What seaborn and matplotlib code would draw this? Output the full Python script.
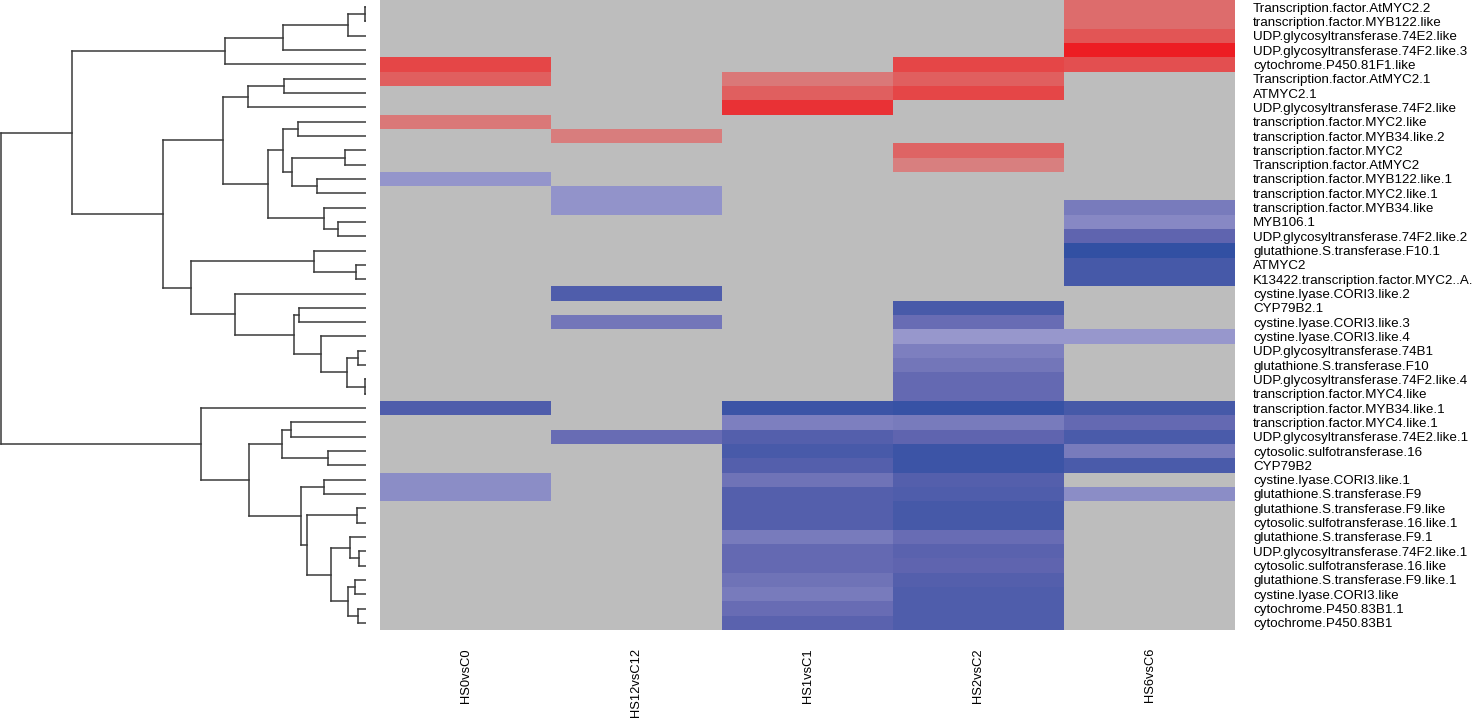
import numpy as np
import pandas as pd
import matplotlib
matplotlib.use("Agg")
import matplotlib.pyplot as plt
import seaborn as sns
from matplotlib.colors import LinearSegmentedColormap

nan = np.nan

# Row labels (top to bottom, dendrogram order)
genes = [
    "Transcription.factor.AtMYC2.2", "transcription.factor.MYB122.like",
    "UDP.glycosyltransferase.74E2.like", "UDP.glycosyltransferase.74F2.like.3",
    "cytochrome.P450.81F1.like", "Transcription.factor.AtMYC2.1", "ATMYC2.1",
    "UDP.glycosyltransferase.74F2.like", "transcription.factor.MYC2.like",
    "transcription.factor.MYB34.like.2", "transcription.factor.MYC2",
    "Transcription.factor.AtMYC2", "transcription.factor.MYB122.like.1",
    "transcription.factor.MYC2.like.1", "transcription.factor.MYB34.like",
    "MYB106.1", "UDP.glycosyltransferase.74F2.like.2",
    "glutathione.S.transferase.F10.1", "ATMYC2",
    "K13422.transcription.factor.MYC2..A.", "cystine.lyase.CORI3.like.2",
    "CYP79B2.1", "cystine.lyase.CORI3.like.3", "cystine.lyase.CORI3.like.4",
    "UDP.glycosyltransferase.74B1", "glutathione.S.transferase.F10",
    "UDP.glycosyltransferase.74F2.like.4", "transcription.factor.MYC4.like",
    "transcription.factor.MYB34.like.1", "transcription.factor.MYC4.like.1",
    "UDP.glycosyltransferase.74E2.like.1", "cytosolic.sulfotransferase.16",
    "CYP79B2", "cystine.lyase.CORI3.like.1", "glutathione.S.transferase.F9",
    "glutathione.S.transferase.F9.like", "cytosolic.sulfotransferase.16.like.1",
    "glutathione.S.transferase.F9.1", "UDP.glycosyltransferase.74F2.like.1",
    "cytosolic.sulfotransferase.16.like", "glutathione.S.transferase.F9.like.1",
    "cystine.lyase.CORI3.like", "cytochrome.P450.83B1.1", "cytochrome.P450.83B1",
]

comparisons = ["HS0vsC0", "HS12vsC12", "HS1vsC1", "HS2vsC2", "HS6vsC6"]

# log2 fold change per comparison (NaN = not significant)
hs0 = [nan, nan, nan, nan, 3.5, 2.6, nan, nan, 1.6, nan, nan, nan, -1.3, nan,
       nan, nan, nan, nan, nan, nan, nan, nan, nan, nan, nan, nan, nan, nan,
       -3.6, nan, nan, nan, nan, -1.6, -1.6, nan, nan, nan, nan, nan, nan,
       nan, nan, nan]
hs12 = [nan, nan, nan, nan, nan, nan, nan, nan, nan, 1.4, nan, nan, nan, -1.4,
        -1.4, nan, nan, nan, nan, nan, -3.6, nan, -2.35, nan, nan, nan, nan,
        nan, nan, nan, -2.7, nan, nan, nan, nan, nan, nan, nan, nan, nan, nan,
        nan, nan, nan]
hs1 = [nan, nan, nan, nan, nan, 1.6, 2.6, 4.2, nan, nan, nan, nan, nan, nan,
       nan, nan, nan, nan, nan, nan, nan, nan, nan, nan, nan, nan, nan, nan,
       -4.4, -2.05, -3.4, -3.9, -3.4, -2.5, -3.4, -3.4, -3.4, -2.2, -2.85,
       -2.85, -2.5, -2.2, -2.7, -3.2]
hs2 = [nan, nan, nan, nan, 3.5, 2.6, 3.5, nan, nan, nan, 2.4, 1.3, nan, nan,
       nan, nan, nan, nan, nan, nan, nan, -3.9, -2.7, -1.25, -2.05, -2.35,
       -2.85, -2.85, -4.6, -2.2, -3.0, -4.4, -4.4, -3.4, -3.6, -4.0, -4.0,
       -2.7, -3.2, -3.0, -3.4, -3.6, -3.6, -3.6]
hs6 = [2.1, 2.1, 3.0, 4.85, 3.2, nan, nan, nan, nan, nan, nan, nan, nan, nan,
       -2.2, -1.75, -3.0, -4.8, -4.0, -4.0, nan, nan, nan, -1.25, nan, nan,
       nan, nan, -4.0, -2.85, -3.8, -2.2, -3.8, nan, -1.6, nan, nan, nan, nan,
       nan, nan, nan, nan, nan]

# Row dendrogram: (left, right, height); ints are leaf rows
a012 = (((0, 1, 0.02), 2, 0.45), 3, 2.08)
clust_a = (a012, 4, 3.52)
b567 = ((5, 6, 2.05), 7, 2.95)
b8_13 = ((8, 9, 1.70), ((10, 11, 0.52), (12, 13, 1.22), 1.85), 2.08)
b14_16 = (14, (15, 16, 0.70), 1.05)
clust_b1 = (b567, (b8_13, b14_16, 2.45), 3.57)
d17_19 = (17, (18, 19, 0.25), 1.30)
e23_27 = (23, ((24, 25, 0.20), (26, 27, 0.02), 0.47), 1.12)
e20_27 = (20, ((21, 22, 1.68), e23_27, 1.80), 3.27)
clust_b = (clust_b1, (d17_19, e20_27, 4.37), 5.07)
f29_32 = ((29, 30, 1.88), (31, 32, 0.95), 2.10)
g37_43 = ((37, (38, 39, 0.18), 0.40), ((40, 41, 0.27), (42, 43, 0.20), 0.45), 0.87)
g33_43 = ((33, 34, 1.05), ((35, 36, 0.22), g37_43, 1.47), 1.62)
clust_f = (28, (f29_32, g33_43, 2.92), 4.12)
tree = ((clust_a, clust_b, 7.32), clust_f, 9.10)

df = pd.DataFrame({"HS0vsC0": hs0, "HS12vsC12": hs12, "HS1vsC1": hs1,
                   "HS2vsC2": hs2, "HS6vsC6": hs6}, index=genes)[comparisons]

cmap = LinearSegmentedColormap.from_list("fc", [
    (0.0, (45/255, 78/255, 162/255)),
    (0.2, (95/255, 100/255, 175/255)),
    (0.4, (158/255, 158/255, 208/255)),
    (0.499, (170/255, 170/255, 214/255)),
    (0.501, (212/255, 142/255, 142/255)),
    (0.6, (214/255, 135/255, 135/255)),
    (0.8, (226/255, 85/255, 85/255)),
    (1.0, (238/255, 25/255, 32/255)),
])

plt.rcParams["font.family"] = ["Liberation Sans", "DejaVu Sans"]

W, H = 1477, 720
fig = plt.figure(figsize=(W / 100, H / 100), dpi=100)

# heatmap
ax = fig.add_axes([380 / W, 90 / H, 855 / W, 630 / H])
ax.set_facecolor("#bdbdbd")
sns.heatmap(df, ax=ax, cmap=cmap, vmin=-5, vmax=5, cbar=False,
            xticklabels=True, yticklabels=True)
ax.yaxis.tick_right()
ax.set_yticklabels(genes, rotation=0, fontsize=9.6, ha="left")
ax.set_xticklabels(comparisons, rotation=90, fontsize=9.3)
ax.tick_params(axis="y", length=0, pad=13)
ax.tick_params(axis="x", length=0, pad=13)
ax.set_xlabel("")
ax.set_ylabel("")

# dendrogram
dax = fig.add_axes([0, 90 / H, 366 / W, 630 / H])


def draw(node):
    if isinstance(node, int):
        return node + 0.5, 0.0
    left, right, h = node
    y1, h1 = draw(left)
    y2, h2 = draw(right)
    dax.plot([h1, h], [y1, y1], color="#3a3a3a", lw=1.1)
    dax.plot([h2, h], [y2, y2], color="#3a3a3a", lw=1.1)
    dax.plot([h, h], [y1, y2], color="#3a3a3a", lw=1.1)
    return (y1 + y2) / 2, h


draw(tree)
dax.set_xlim(9.125, 0)
dax.set_ylim(len(genes), 0)
dax.axis("off")

fig.savefig("out.png", dpi=100)
